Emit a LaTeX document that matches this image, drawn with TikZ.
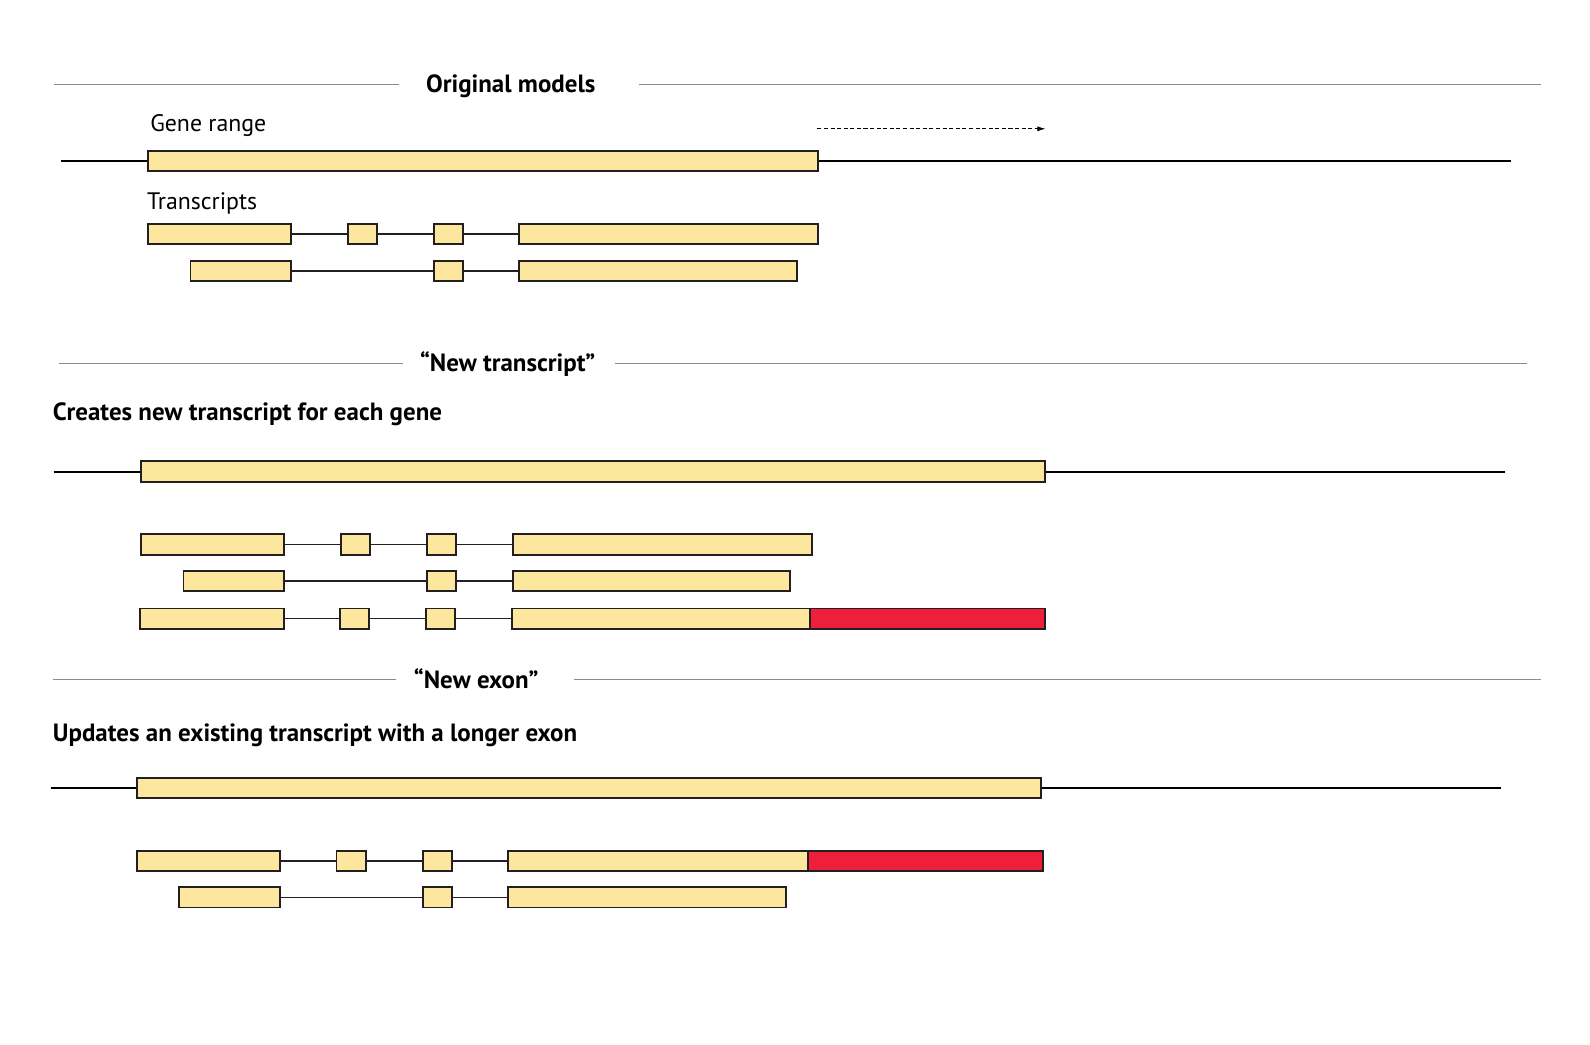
\documentclass[tikz,border=0pt]{standalone}
\usepackage{fontspec}
\setmainfont{PT Sans}
\usetikzlibrary{arrows.meta}
\definecolor{exony}{HTML}{FDE79F}
\definecolor{exonr}{HTML}{ED1F3A}
\definecolor{rulegray}{HTML}{8C8C8C}
\definecolor{edge}{HTML}{231F20}
\tikzset{
  exon/.style={draw=edge, line width=1.8pt, fill=exony, rectangle, inner sep=0pt, minimum height=20pt, anchor=west},
  exonred/.style={exon, fill=exonr},
  intron/.style={draw=edge, line width=1.6pt},
  geneline/.style={draw=black, line width=2pt},
  rulel/.style={draw=rulegray, line width=1pt},
  title/.style={font=\fontsize{24.6}{28}\selectfont\bfseries, anchor=base west, inner sep=0pt},
  label/.style={font=\fontsize{23.5}{27}\selectfont, anchor=base west, inner sep=0pt},
  bigtext/.style={font=\fontsize{24.6}{28}\selectfont\bfseries, anchor=base west, inner sep=0pt}
}
\begin{document}
\begin{tikzpicture}[x=1pt,y=-1pt]
\useasboundingbox[fill=white] (0,0) rectangle (1568,1030);
% ---------- Section 1 ----------
\coordinate (r1a) at (53,83); \coordinate (r1b) at (393,83);
\coordinate (r1c) at (630,83); \coordinate (r1d) at (1520,83);
\draw[rulel] (r1a) -- (r1b); \draw[rulel] (r1c) -- (r1d);
\node[title] (t1) at (420,91.5) {Original models};
\node[label] (generange) at (148,129.5) {Gene range};
\coordinate (g1l) at (60,159); \coordinate (g1r) at (1490,159);
\node[exon, minimum width=661pt] (g1) at (145,159) {};
\draw[geneline] (g1l) -- (g1.west); \draw[geneline] (g1.east) -- (g1r);
\coordinate (da) at (806,127); \coordinate (db) at (1031,127);
\draw[dashed, line width=0.8pt, dash pattern=on 4pt off 2.5pt, -{Latex[length=8pt,width=5pt]}] (da) -- (db);
\node[label] (transcripts) at (145,206.5) {Transcripts};
% transcript 1
\node[exon, minimum width=141pt] (a1) at (145,231) {};
\node[exon, minimum width=29pt] (a2) at (342,231) {};
\node[exon, minimum width=29pt] (a3) at (427,231) {};
\node[exon, minimum width=295pt] (a4) at (511,231) {};
\draw[intron] (a1.east) -- (a2.west) (a2.east) -- (a3.west) (a3.east) -- (a4.west);
% transcript 2
\node[exon, minimum width=99pt] (b1) at (187,267) {};
\node[exon, minimum width=29pt] (b3) at (427,267) {};
\node[exon, minimum width=274pt] (b4) at (511,267) {};
\draw[intron] (b1.east) -- (b3.west) (b3.east) -- (b4.west);
% ---------- Section 2 ----------
\coordinate (r2a) at (58,358); \coordinate (r2b) at (397,358);
\coordinate (r2c) at (606,358); \coordinate (r2d) at (1506,358);
\draw[rulel] (r2a) -- (r2b); \draw[rulel] (r2c) -- (r2d);
\node[title] (t2) at (414,366.5) {“New transcript”};
\node[bigtext] (d2) at (52,414.5) {Creates new transcript for each gene};
\coordinate (g2l) at (53,465); \coordinate (g2r) at (1484,465);
\node[exon, minimum width=892pt] (g2) at (138,465) {};
\draw[geneline] (g2l) -- (g2.west); \draw[geneline] (g2.east) -- (g2r);
\node[exon, minimum width=141pt] (c1) at (138,537) {};
\node[exon, minimum width=29pt] (c2) at (335,537) {};
\node[exon, minimum width=29pt] (c3) at (420,537) {};
\node[exon, minimum width=295pt] (c4) at (505,537) {};
\draw[intron] (c1.east) -- (c2.west) (c2.east) -- (c3.west) (c3.east) -- (c4.west);
\node[exon, minimum width=99pt] (e1) at (180,573) {};
\node[exon, minimum width=29pt] (e3) at (420,573) {};
\node[exon, minimum width=273pt] (e4) at (505,573) {};
\draw[intron] (e1.east) -- (e3.west) (e3.east) -- (e4.west);
\node[exon, minimum width=142pt] (f1) at (137,610) {};
\node[exon, minimum width=29pt] (f2) at (334,610) {};
\node[exon, minimum width=29pt] (f3) at (419,610) {};
\node[exon, minimum width=294pt] (f4) at (504,610) {};
\node[exonred, minimum width=232pt] (f5) at (798,610) {};
\draw[intron] (f1.east) -- (f2.west) (f2.east) -- (f3.west) (f3.east) -- (f4.west);
% ---------- Section 3 ----------
\coordinate (r3a) at (52,670); \coordinate (r3b) at (391,670);
\coordinate (r3c) at (566,670); \coordinate (r3d) at (1520,670);
\draw[rulel] (r3a) -- (r3b); \draw[rulel] (r3c) -- (r3d);
\node[title] (t3) at (408,678.5) {“New exon”};
\node[bigtext] (d3) at (52,731.5) {Updates an existing transcript with a longer exon};
\coordinate (g3l) at (50,777); \coordinate (g3r) at (1480,777);
\node[exon, minimum width=892pt] (g3) at (134,777) {};
\draw[geneline] (g3l) -- (g3.west); \draw[geneline] (g3.east) -- (g3r);
\node[exon, minimum width=141pt] (h1) at (134,849) {};
\node[exon, minimum width=29pt] (h2) at (331,849) {};
\node[exon, minimum width=29pt] (h3) at (416,849) {};
\node[exon, minimum width=296pt] (h4) at (500,849) {};
\node[exonred, minimum width=232pt] (h5) at (796,849) {};
\draw[intron] (h1.east) -- (h2.west) (h2.east) -- (h3.west) (h3.east) -- (h4.west);
\node[exon, minimum width=99pt] (k1) at (176,885) {};
\node[exon, minimum width=29pt] (k3) at (416,885) {};
\node[exon, minimum width=274pt] (k4) at (500,885) {};
\draw[intron] (k1.east) -- (k3.west) (k3.east) -- (k4.west);
\end{tikzpicture}
\end{document}
